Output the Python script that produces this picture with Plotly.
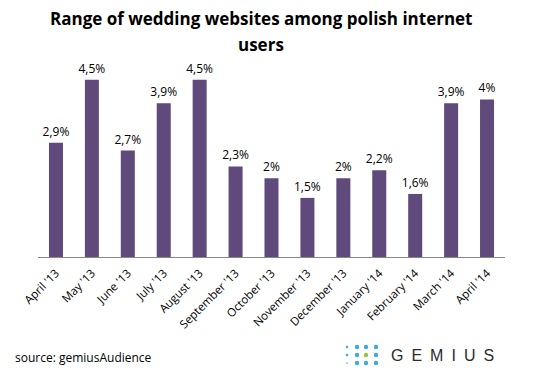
import plotly.graph_objects as go

months = ["April '13", "May '13", "June '13", "July '13", "August '13", "September '13",
          "October '13", "November '13", "December '13", "January '14", "February '14",
          "March '14", "April '14"]
values = [2.9, 4.5, 2.7, 3.9, 4.5, 2.3, 2.0, 1.5, 2.0, 2.2, 1.6, 3.9, 4.0]
labels = ["2,9%", "4,5%", "2,7%", "3,9%", "4,5%", "2,3%", "2%", "1,5%", "2%", "2,2%", "1,6%", "3,9%", "4%"]

# page has an 8px body margin; compensate so the figure fills the 544x387 window
OFF = 8
W, H = 544 - OFF, 387 - OFF
ML, MR, MT, MB = 38 - OFF, 39, 60 - OFF, 130
PW, PH = W - ML - MR, H - MT - MB

fig = go.Figure(go.Bar(
    x=months, y=values, text=labels, textposition="outside", constraintext="none",
    textfont=dict(family="Open Sans", size=12, color="#000000"),
    marker=dict(color="#604A7B", line=dict(width=0)),
    width=0.39, cliponaxis=False,
))

def px2paper(x, y):
    # x, y given in window pixels
    x -= OFF
    y -= OFF
    return (x - ML) / PW, (H - MB - y) / PH

shapes = []
dots = [
    (347, 347, 1.3, "#3DA9E1"), (357, 347, 2.2, "#3DA9E1"), (366, 347, 2.2, "#3DA9E1"), (376, 347, 2.2, "#3DA9E1"),
    (347, 355, 1.3, "#3DA9E1"), (357, 355, 2.2, "#3DA9E1"), (366, 355, 2.2, "#9AC33C"), (376, 355, 2.2, "#3DA9E1"),
    (347, 363, 0.8, "#3DA9E1"), (357, 363, 2.2, "#3DA9E1"), (366, 363, 2.2, "#3DA9E1"), (376, 363, 2.2, "#3DA9E1"),
]
for cx, cy, r, c in dots:
    x0, y0 = px2paper(cx - r, cy + r)
    x1, y1 = px2paper(cx + r, cy - r)
    shapes.append(dict(type="circle", xref="paper", yref="paper", x0=x0, y0=y0, x1=x1, y1=y1,
                       fillcolor=c, line=dict(width=0)))

tx, t1y = px2paper(261, 19)
_, t2y = px2paper(261, 44)
gx, gy = px2paper(389, 355)
sx, sy = px2paper(13, 357)
fig.update_layout(
    width=W, height=H, paper_bgcolor="white", plot_bgcolor="white",
    margin=dict(l=ML, r=MR, t=MT, b=MB, autoexpand=False),
    showlegend=False, bargap=0.6,
    xaxis=dict(showline=True, linecolor="#888888", linewidth=1, ticks="", tickangle=-45,
               ticklabelstandoff=4,
               tickfont=dict(family="Open Sans", size=11.5, color="#000000"), showgrid=False),
    yaxis=dict(range=[0, 5], visible=False, showgrid=False),
    shapes=shapes,
    annotations=[
        dict(text="<b>Range of wedding websites among polish internet</b>", xref="paper", yref="paper",
             x=tx, y=t1y, xanchor="center", yanchor="middle", showarrow=False,
             font=dict(family="Open Sans", size=17, color="#000000")),
        dict(text="<b>users</b>", xref="paper", yref="paper",
             x=tx, y=t2y, xanchor="center", yanchor="middle", showarrow=False,
             font=dict(family="Open Sans", size=17, color="#000000")),
        dict(text="source: gemiusAudience", xref="paper", yref="paper", x=sx, y=sy,
             xanchor="left", yanchor="middle", showarrow=False,
             font=dict(family="Open Sans", size=12, color="#000000")),
        dict(text="G\u2002E\u2002M\u2002I\u2002U\u2002S", xref="paper", yref="paper", x=gx, y=gy,
             xanchor="left", yanchor="middle", showarrow=False,
             font=dict(family="Liberation Sans", size=16, color="#2B2B2B")),
    ],
)
fig.write_html("out.html")
